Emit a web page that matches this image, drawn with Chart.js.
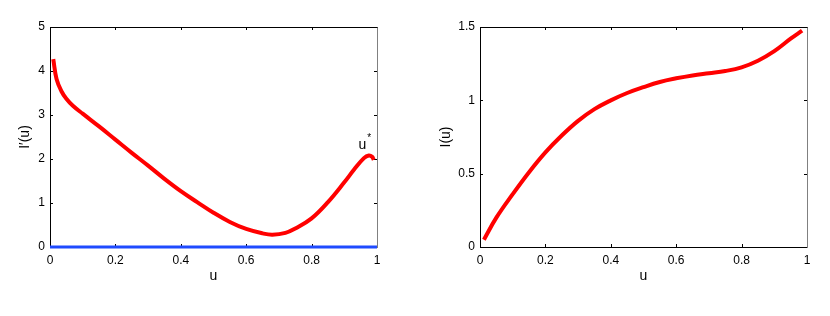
<!DOCTYPE html>
<html>
<head>
<meta charset="utf-8">
<script src="https://cdn.jsdelivr.net/npm/chart.js@4/dist/chart.umd.min.js"></script>
<style>
  html, body { margin: 0; padding: 0; background: #fff; }
  #wrap { position: relative; width: 830px; height: 316px; }
  .box { position: absolute; top: 0; width: 415px; height: 316px; }
</style>
</head>
<body>
<div id="wrap">
  <div class="box" style="left:0"><canvas id="c1" width="415" height="316"></canvas></div>
  <div class="box" style="left:415px"><canvas id="c2" width="415" height="316"></canvas></div>
</div>
<script>
// ---- data ----
const leftU     = [0.01,0.02,0.035,0.05,0.07,0.1,0.15,0.2,0.25,0.3,0.35,0.4,0.45,0.5,0.55,0.6,0.65,0.68,0.72,0.75,0.8,0.85,0.9,0.93,0.96,0.975,0.985,0.99];
const leftDeriv = [4.27,3.82,3.54,3.37,3.21,3.03,2.74,2.44,2.14,1.85,1.55,1.27,1.02,0.78,0.57,0.41,0.31,0.28,0.32,0.42,0.65,1.02,1.47,1.76,2.02,2.08,2.05,1.98];
const zeroU     = [0, 1];
const zeroV     = [0, 0];
const rightU    = [0.012,0.05,0.1,0.15,0.2,0.25,0.3,0.35,0.4,0.45,0.5,0.55,0.6,0.65,0.7,0.75,0.8,0.85,0.9,0.95,0.985];
const rightI    = [0.05,0.2,0.36,0.51,0.645,0.76,0.86,0.94,1.0,1.05,1.09,1.125,1.15,1.17,1.185,1.2,1.225,1.27,1.335,1.42,1.475];
const xTicks      = [0, 0.2, 0.4, 0.6, 0.8, 1];
const leftYTicks  = [0, 1, 2, 3, 4, 5];
const rightYTicks = [0, 0.5, 1, 1.5];
const markLabel = { text: 'u', sup: '*', u: 0.955, v: 2.23 };

const FONT = '"Liberation Sans", Arial, Helvetica, sans-serif';

function pts(xs, ys) { return xs.map((x, i) => ({ x: x, y: ys[i] })); }

const boxPlugin = {
  id: 'matlabBox',
  beforeDatasetsDraw(chart) {
    const { ctx, chartArea: a, scales } = chart;
    const L = a.left, R = a.right, T = a.top, B = a.bottom;
    ctx.save();
    ctx.lineWidth = 1;
    ctx.strokeStyle = '#000';
    const tl = 3;
    scales.x.ticks.forEach(t => {
      const px = Math.round(scales.x.getPixelForValue(t.value)) + 0.5;
      ctx.beginPath();
      ctx.moveTo(px, B); ctx.lineTo(px, B - tl);
      ctx.moveTo(px, T); ctx.lineTo(px, T + tl);
      ctx.stroke();
    });
    scales.y.ticks.forEach(t => {
      const py = Math.round(scales.y.getPixelForValue(t.value)) + 0.5;
      ctx.beginPath();
      ctx.moveTo(L, py); ctx.lineTo(L + tl, py);
      ctx.moveTo(R, py); ctx.lineTo(R - tl, py);
      ctx.stroke();
    });
    const l = Math.round(L) + 0.5, r = Math.round(R) + 0.5, t = Math.round(T) + 0.5, b = Math.round(B) + 0.5;
    ctx.strokeStyle = '#000';
    ctx.beginPath();
    ctx.moveTo(l, t); ctx.lineTo(l, b); ctx.lineTo(r, b);
    ctx.moveTo(l, t); ctx.lineTo(r, t);
    ctx.stroke();
    ctx.strokeStyle = '#808080';
    ctx.beginPath();
    ctx.moveTo(r, t); ctx.lineTo(r, b);
    ctx.stroke();
    ctx.restore();
  },
  afterDatasetsDraw(chart, args, opts) {
    if (!opts || !opts.label) return;
    const { ctx, scales } = chart;
    const lab = opts.label;
    const px = scales.x.getPixelForValue(lab.u);
    const py = scales.y.getPixelForValue(lab.v);
    ctx.save();
    ctx.fillStyle = '#000';
    ctx.font = '14px ' + FONT;
    ctx.textAlign = 'center';
    ctx.textBaseline = 'alphabetic';
    ctx.fillText(lab.text, px, py);
    ctx.font = '10px ' + FONT;
    ctx.textAlign = 'left';
    ctx.fillText(lab.sup, px + 5, py - 8);
    ctx.restore();
  }
};

function makeChart(id, datasets, yTicks, yTitle, yTitlePad, pad, label) {
  return new Chart(document.getElementById(id), {
    type: 'line',
    data: { datasets: datasets },
    plugins: [boxPlugin],
    options: {
      responsive: false,
      animation: false,
      layout: { padding: pad },
      plugins: {
        legend: { display: false },
        tooltip: { enabled: false },
        matlabBox: { label: label }
      },
      elements: { point: { radius: 0 }, line: { tension: 0.4 } },
      scales: {
        x: {
          type: 'linear', min: 0, max: 1,
          afterBuildTicks: s => { s.ticks = xTicks.map(v => ({ value: v })); },
          afterFit: s => { s.height = 40; },
          grid: { display: false, drawTicks: false },
          border: { display: false },
          ticks: { padding: 6, color: '#000', font: { family: FONT, size: 12 }, maxRotation: 0, callback: v => String(v) },
          title: { display: true, text: 'u', color: '#000', font: { family: FONT, size: 14 }, padding: { top: 0, bottom: 2 } }
        },
        y: {
          type: 'linear', min: yTicks[0], max: yTicks[yTicks.length - 1],
          afterBuildTicks: s => { s.ticks = yTicks.map(v => ({ value: v })); },
          afterFit: s => { s.width = pad.yw; },
          grid: { display: false, drawTicks: false },
          border: { display: false },
          ticks: { padding: 5, color: '#000', font: { family: FONT, size: 12 }, callback: v => String(v) },
          title: { display: true, text: yTitle, color: '#000', font: { family: FONT, size: 14 }, padding: { top: yTitlePad, bottom: 0 } }
        }
      }
    }
  });
}

makeChart('c1', [
  { data: pts(leftU, leftDeriv), borderColor: '#ff0000', borderWidth: 4, clip: false, fill: false },
  { data: pts(zeroU, zeroV), borderColor: '#1f4bff', borderWidth: 3, tension: 0, clip: false, fill: false }
], leftYTicks, 'I\u2032(u)', 16.6, { left: 0, right: 38, top: 27, bottom: 29, yw: 50 }, markLabel);

makeChart('c2', [
  { data: pts(rightU, rightI), borderColor: '#ff0000', borderWidth: 4, clip: false, fill: false }
], rightYTicks, 'I(u)', 22.6, { left: 0, right: 23, top: 27, bottom: 29, yw: 65 }, null);
</script>
</body>
</html>
